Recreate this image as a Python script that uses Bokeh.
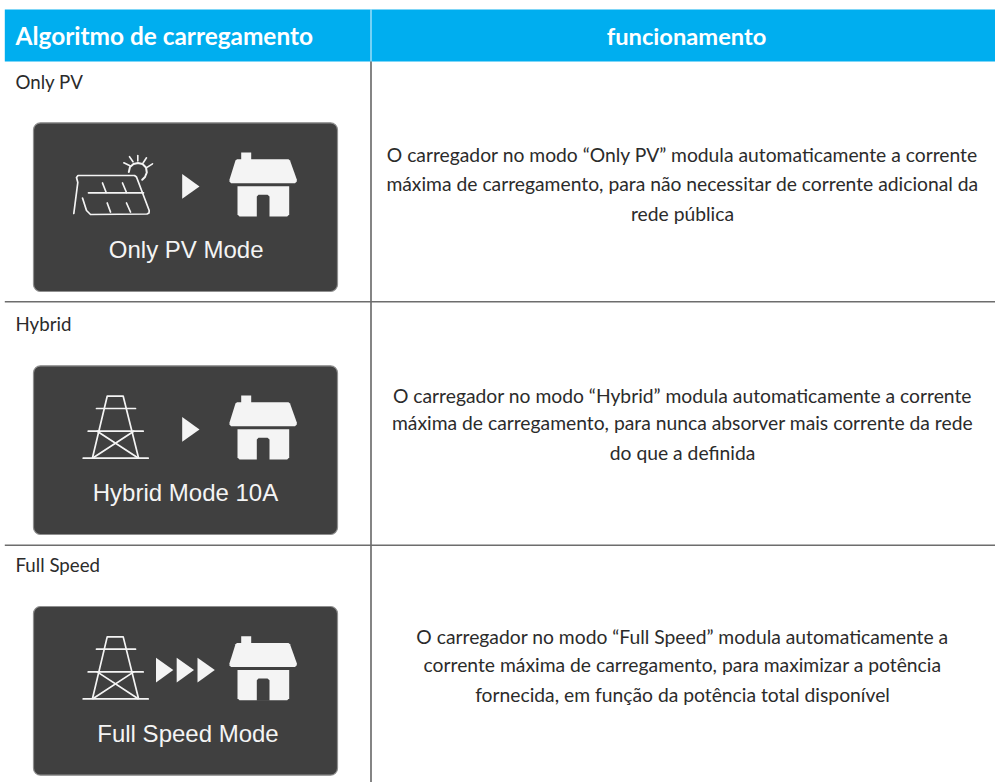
from bokeh.plotting import figure
from bokeh.models import Range1d
from bokeh.core.properties import value
from bokeh.embed import file_html
from bokeh.resources import INLINE

headers = ["Algoritmo de carregamento", "funcionamento"]
modes = ["Only PV", "Hybrid", "Full Speed"]
card_labels = ["Only PV Mode", "Hybrid Mode 10A", "Full Speed Mode"]
descriptions = [
    ["O carregador no modo \u201cOnly PV\u201d modula automaticamente a corrente",
     "máxima de carregamento, para não necessitar de corrente adicional da",
     "rede pública"],
    ["O carregador no modo \u201cHybrid\u201d modula automaticamente a corrente",
     "máxima de carregamento, para nunca absorver mais corrente da rede",
     "do que a definida"],
    ["O carregador no modo \u201cFull Speed\u201d modula automaticamente a",
     "corrente máxima de carregamento, para maximizar a potência",
     "fornecida, em função da potência total disponível"],
]
card_tops = [122.3, 365.3, 606.0]
mode_base = [81, 323, 564]
label_cx = [185.7, 185.0, 187.5]
desc_base = [[154, 183, 213], [395, 422, 452], [636, 664, 694]]

BLUE = "#00AEEF"
CARD = "#404040"
WHITE = "#f4f4f4"
TEXT = "#2b2b2b"
BODY = value("Lato")

p = figure(width=995, height=782, x_range=Range1d(0, 995), y_range=Range1d(782, 0),
           output_backend="svg", toolbar_location=None, min_border=0,
           margin=(0, 0, 0, 0))
p.axis.visible = False
p.grid.visible = False
p.outline_line_color = None
p.background_fill_color = "white"
p.border_fill_color = "white"

p.quad(left=4.3, right=995, top=9, bottom=61, fill_color=BLUE, line_color=None)
p.line([370.5, 370.5], [9, 61], line_color="#e8f6fd", line_width=1)
p.line([370.5, 370.5], [61, 782], line_color="#333333", line_width=1.2)
for yy in (301.3, 544.7):
    p.line([4.3, 995], [yy, yy], line_color="#6d6d6d", line_width=1.6)

p.text(x=[15], y=[35], text=[headers[0]], text_font=BODY, text_font_style="bold",
       text_font_size="24.4px", text_color="white", text_baseline="alphabetic", text_align="left")
p.text(x=[686], y=[35], text=[headers[1]], text_font=BODY, text_font_style="bold",
       text_font_size="23.7px", text_color="white", text_baseline="alphabetic", text_align="center")


def poly(pts, dy, w=1.7):
    p.line([a for a, _ in pts], [b + dy for _, b in pts], line_color=WHITE, line_width=w,
           line_join="round", line_cap="round")


def tri(x0, top):
    p.patch([x0, x0 + 17.3, x0], [top + 51.2, top + 63.6, top + 76], fill_color=WHITE, line_color=None)


def house(top):
    d = top - 122.3
    p.quad(left=240.7, right=250.7, top=152 + d, bottom=162 + d, fill_color=WHITE, line_color=None)
    p.patch([236.5, 288, 289.5, 296.3, 296.3, 294.5, 230.5, 229, 229, 235],
            [v + d for v in [158.7, 158.7, 160, 179, 181, 182.7, 182.7, 181, 179, 160]],
            fill_color=WHITE, line_color=None)
    p.patch([237, 288.7, 288.7, 286.7, 239, 237], [v + d for v in [185.7, 185.7, 214, 216, 216, 214]],
            fill_color=WHITE, line_color=None)
    p.patch([256.3, 258, 267, 269, 269, 256.3], [v + d for v in [196, 194.3, 194.3, 196, 216.5, 216.5]],
            fill_color=CARD, line_color=None)


def tower(top):
    d = top - 365.3
    poly([(92, 457.3), (106.7, 395.7), (122.7, 395.7), (138, 457.3)], d)
    poly([(96, 408), (135, 408)], d)
    poly([(87.7, 430.7), (142.7, 430.7)], d)
    poly([(82.7, 457.7), (147.7, 457.7)], d)
    poly([(96.7, 430.7), (137.3, 457.3)], d)
    poly([(133.3, 430.7), (92.7, 457.3)], d)


def solar():
    poly([(73.3, 213), (77.3, 182), (76, 177), (77.5, 175), (134, 175), (136, 176.5),
          (148.7, 210), (148.5, 212.5), (146.5, 213.5), (90, 214), (86, 210), (82, 197.5)], 0)
    poly([(88, 192.3), (143, 192.3)], 0)
    for a, b, c, e in [(102, 182.5, 105.7, 192), (122, 182.5, 126, 192),
                       (106.7, 202.5, 110, 211.5), (126, 202.5, 130, 211.5)]:
        poly([(a, b), (c, e)], 0)
    poly([(128.3, 171.5), (129.5, 166.5), (133, 163.5), (137.5, 162.5), (142, 163.5),
          (145.5, 167), (146.3, 172), (144.5, 176.5), (141.7, 179.3)], 0, 2)
    for r in [[(137.3, 155), (137.3, 160.5)], [(123.3, 162.3), (129.5, 165.3)],
              [(129, 156.2), (132.5, 161.3)], [(146, 157.3), (142.7, 162.3)],
              [(152, 163.3), (146.5, 166.8)]]:
        poly(r, 0, 1.6)


for i, top in enumerate(card_tops):
    p.quad(left=33, right=337, top=top, bottom=top + 168.7, fill_color=CARD, line_color="#8f8f8f",
           line_width=1.2, border_radius=7)
    house(top)
    if i == 0:
        solar()
    else:
        tower(top)
    if i < 2:
        tri(181.7, top)
    else:
        for x0 in (155.5, 176.2, 197):
            tri(x0, top)
    p.text(x=[label_cx[i]], y=[top + 126.5], text=[card_labels[i]], text_font=value("Liberation Sans"),
           text_font_size="24px", text_color=WHITE, text_align="center", text_baseline="alphabetic")
    p.text(x=[15], y=[mode_base[i]], text=[modes[i]], text_font=BODY, text_font_size="18.7px",
           text_color=TEXT, text_align="left", text_baseline="alphabetic")
    p.text(x=[682] * 3, y=desc_base[i], text=descriptions[i], text_font=BODY, text_font_size="19.3px",
           text_color=TEXT, text_align="center", text_baseline="alphabetic")

open("out.html", "w").write(file_html(p, INLINE))
